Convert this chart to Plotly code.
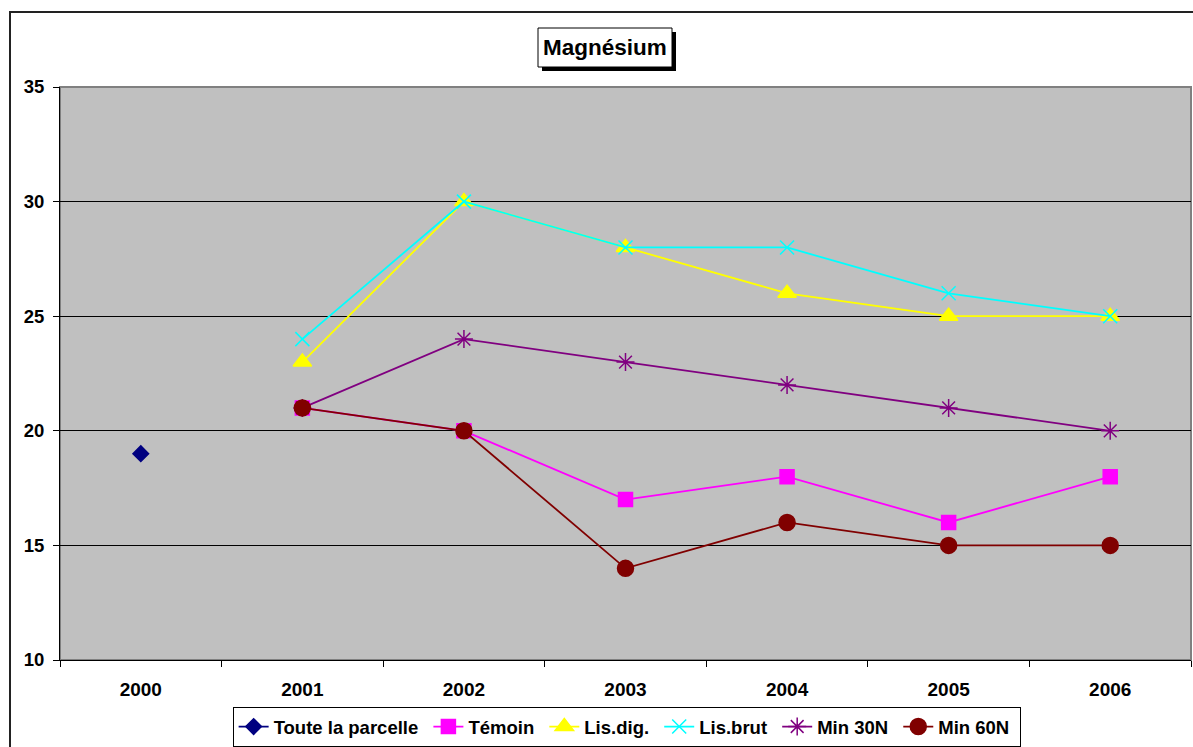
import plotly.graph_objects as go

years = ["2000", "2001", "2002", "2003", "2004", "2005", "2006"]
toute = [19, None, None, None, None, None, None]
temoin = [None, 21, 20, 17, 18, 16, 18]
lis_dig = [None, 23, 30, 28, 26, 25, 25]
lis_brut = [None, 24, 30, 28, 28, 26, 25]
min30 = [None, 21, 24, 23, 22, 21, 20]
min60 = [None, 21, 20, 14, 16, 15, 15]

series = [
    ("Toute la parcelle", toute, "#000080", "diamond", 12),
    ("Témoin", temoin, "#FF00FF", "square", 14),
    ("Lis.dig.", lis_dig, "#FFFF00", "triangle-up", 16),
    ("Lis.brut", lis_brut, "#00FFFF", "x-thin-open", 14),
    ("Min 30N", min30, "#800080", "asterisk-open", 15),
    ("Min 60N", min60, "#800000", "circle", 16),
]

fig = go.Figure()
for name, vals, col, sym, sz in series:
    fig.add_trace(go.Scatter(
        x=years, y=vals, name=name + "\u00a0", mode="lines+markers",
        line=dict(color=col, width=1.8),
        marker=dict(symbol=sym, size=sz, color=col, line=dict(color=col, width=1.5)),
        connectgaps=False,
    ))

W, H = 1193, 747
L, R, T, B = 60, 2, 87, 87
pw, ph = W - L - R, H - T - B

def px(x):
    return (x - L) / pw

def py(y):
    return (H - B - y) / ph

FONT = "Liberation Sans, Arial, sans-serif"

fig.update_layout(
    width=W, height=H,
    margin=dict(l=L, r=R, t=T, b=B, autoexpand=False),
    paper_bgcolor="white",
    plot_bgcolor="#C0C0C0",
    font=dict(family=FONT, color="black", size=16),
    showlegend=True,
    legend=dict(
        orientation="h", x=0.501, xanchor="center", y=py(707), yanchor="top",
        bordercolor="black", borderwidth=1, bgcolor="white",
        font=dict(size=18.5, family=FONT, weight="bold"),
        itemwidth=30, tracegroupgap=0,
    ),
    xaxis=dict(
        type="category", range=[-0.5, 6.5], showgrid=False,
        showline=True, linecolor="black", linewidth=1,
        ticks="outside", tickson="boundaries", ticklen=6, tickcolor="black",
        tickfont=dict(size=19, family=FONT, weight="bold"), ticklabelstandoff=12,
    ),
    yaxis=dict(
        range=[10, 35], dtick=5, showgrid=True, gridcolor="black", gridwidth=1,
        showline=True, linecolor="black", linewidth=1, zeroline=False,
        ticks="outside", ticklen=6, tickcolor="black",
        tickfont=dict(size=18.5, family=FONT, weight="bold"), ticklabelstandoff=5,
    ),
    shapes=[
        dict(type="rect", xref="paper", yref="paper",
             x0=px(10), x1=px(1260), y0=py(12), y1=py(800),
             line=dict(color="#222222", width=2), layer="above"),
        dict(type="rect", xref="paper", yref="paper",
             x0=0, x1=1, y0=0, y1=1,
             line=dict(color="#808080", width=2), layer="below"),
        dict(type="rect", xref="paper", yref="paper",
             x0=px(542), x1=px(676), y0=py(32), y1=py(71),
             fillcolor="black", line=dict(width=0), layer="above"),
        dict(type="rect", xref="paper", yref="paper",
             x0=px(538), x1=px(672), y0=py(28), y1=py(67),
             fillcolor="white", line=dict(color="black", width=1), layer="above"),
    ],
    annotations=[
        dict(text="<b>Magnésium</b>", xref="paper", yref="paper",
             x=px(605), y=py(47.5), xanchor="center", yanchor="middle",
             showarrow=False, font=dict(size=22.5, family=FONT, color="black")),
    ],
)

fig.write_html("out.html", config={"displayModeBar": False},
               post_script="document.body.style.margin='0';")
